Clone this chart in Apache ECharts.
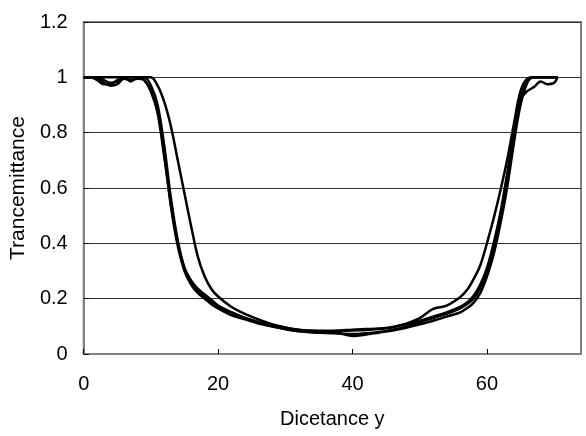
<!DOCTYPE html>
<html>
<head>
<meta charset="utf-8">
<script src="https://cdn.jsdelivr.net/npm/echarts@6/dist/echarts.min.js"></script>
<style>
  html, body { margin: 0; padding: 0; background: #fff; }
  #chart { width: 586px; height: 436px; }
</style>
</head>
<body>
<div id="chart"></div>
<script>
// Sampling positions along the scan (distance y)
const distance = [
  0, 1, 2, 3, 4, 5, 6, 7, 8,
  9, 10, 11, 12, 13, 14, 15, 16, 17, 18, 19, 20,
  22, 24, 26, 28, 30, 32, 34, 36, 38, 40, 42, 44, 46, 48, 50, 52, 54,
  56, 57, 58, 59, 60, 61, 62, 63, 64, 65, 66, 67, 68, 69, 70, 70.5
];

// Transmittance profiles, one per measurement
const scan1 = [
  1, 1, 0.995, 0.98, 0.97, 0.975, 0.995, 0.99, 0.995,
  0.99, 0.95, 0.88, 0.72, 0.53, 0.39, 0.3, 0.25, 0.22, 0.2, 0.18, 0.165,
  0.14, 0.125, 0.11, 0.1, 0.09, 0.082, 0.078, 0.076, 0.074, 0.072, 0.075, 0.08, 0.088, 0.1, 0.115, 0.13, 0.145,
  0.165, 0.18, 0.2, 0.24, 0.3, 0.39, 0.5, 0.62, 0.78, 0.92, 0.99, 1, 1, 1, 1, 1
];
const scan2 = [
  1, 1, 1, 0.99, 0.98, 0.985, 1, 0.985, 1,
  1, 0.97, 0.9, 0.75, 0.56, 0.41, 0.31, 0.26, 0.225, 0.205, 0.19, 0.17,
  0.15, 0.13, 0.115, 0.105, 0.095, 0.088, 0.085, 0.084, 0.085, 0.088, 0.09, 0.092, 0.098, 0.108, 0.12, 0.135, 0.15,
  0.17, 0.185, 0.21, 0.25, 0.31, 0.4, 0.51, 0.65, 0.8, 0.92, 0.95, 0.965, 0.985, 0.975, 0.98, 1
];
const scan3 = [
  1, 1, 0.99, 0.975, 0.975, 0.99, 1, 1, 1,
  0.99, 0.95, 0.87, 0.71, 0.54, 0.4, 0.31, 0.265, 0.235, 0.215, 0.195, 0.175,
  0.15, 0.13, 0.115, 0.1, 0.09, 0.083, 0.08, 0.078, 0.075, 0.065, 0.07, 0.078, 0.085, 0.095, 0.107, 0.12, 0.135,
  0.15, 0.165, 0.185, 0.22, 0.28, 0.36, 0.47, 0.6, 0.76, 0.9, 0.98, 1, 1, 1, 1, 1
];
const scan4 = [
  1, 1, 1, 1, 1, 1, 1, 1, 1,
  1, 1, 0.97, 0.91, 0.82, 0.7, 0.58, 0.46, 0.35, 0.28, 0.235, 0.208,
  0.17, 0.145, 0.125, 0.108, 0.096, 0.087, 0.082, 0.081, 0.083, 0.085, 0.087, 0.09, 0.097, 0.11, 0.13, 0.163, 0.175,
  0.205, 0.23, 0.27, 0.32, 0.4, 0.49, 0.59, 0.7, 0.83, 0.95, 0.995, 1, 1, 1, 1, 1
];

const scans = [scan1, scan2, scan3, scan4];

const FONT = '"Liberation Sans", Arial, sans-serif';

const chart = echarts.init(document.getElementById('chart'), null, { renderer: 'canvas' });

chart.setOption({
  animation: false,
  backgroundColor: '#ffffff',
  grid: {
    left: 81, right: 5, top: 22, bottom: 82,
    show: true,
    borderColor: '#808080',
    borderWidth: 2
  },
  xAxis: {
    type: 'value',
    min: 0,
    max: 74,
    interval: 20,
    name: 'Dicetance y',
    nameLocation: 'middle',
    nameGap: 55,
    nameTextStyle: { fontFamily: FONT, fontSize: 20, color: '#000' },
    axisLine: { show: true, lineStyle: { color: '#808080', width: 2 } },
    axisTick: { show: true, inside: true, length: 5, lineStyle: { color: '#000', width: 1 } },
    axisLabel: { fontFamily: FONT, fontSize: 20, color: '#000', margin: 20, showMaxLabel: false },
    splitLine: { show: false }
  },
  yAxis: {
    type: 'value',
    min: 0,
    max: 1.2,
    interval: 0.2,
    name: 'Trancemittance',
    nameLocation: 'middle',
    nameGap: 53,
    nameTextStyle: { fontFamily: FONT, fontSize: 21, color: '#000' },
    axisLine: { show: true, lineStyle: { color: '#808080', width: 2 } },
    axisTick: { show: true, inside: true, length: 5, lineStyle: { color: '#000', width: 1 } },
    axisLabel: { fontFamily: FONT, fontSize: 20, color: '#000', margin: 16 },
    splitLine: { show: true, lineStyle: { color: '#333333', width: 1 } }
  },
  series: scans.map((vals, i) => ({
    name: 'scan' + (i + 1),
    type: 'line',
    data: distance.map((x, j) => [x, vals[j]]),
    showSymbol: false,
    smooth: 0.35,
    lineStyle: { color: '#000', width: 2.5 },
    z: 3
  }))
});
</script>
</body>
</html>
